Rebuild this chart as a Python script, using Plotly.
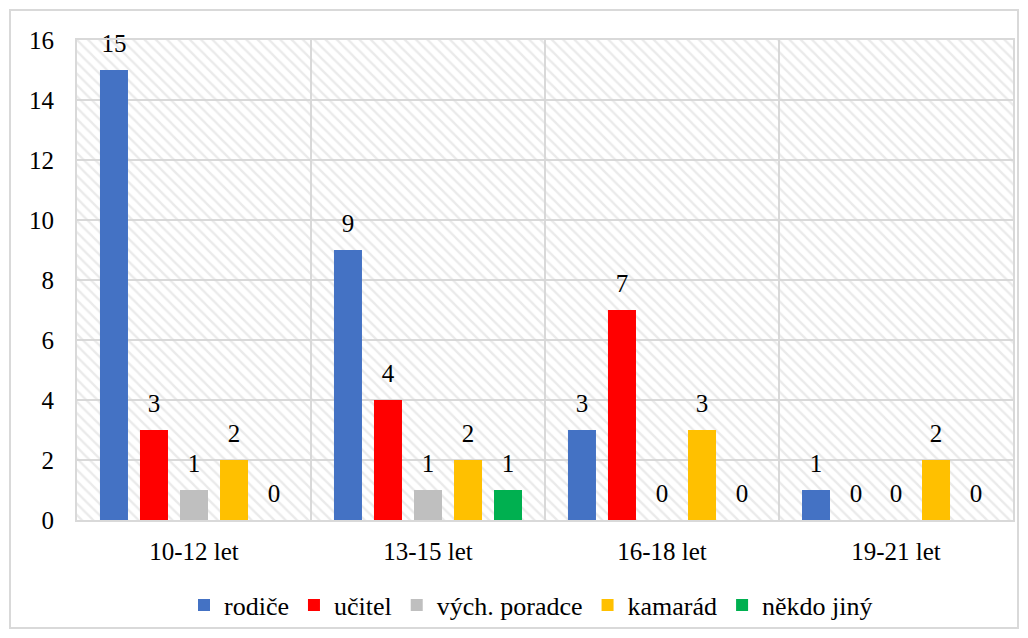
import plotly.graph_objects as go

categories = ["10-12 let", "13-15 let", "16-18 let", "19-21 let"]
series_names = ["rodiče", "učitel", "vých. poradce", "kamarád", "někdo jiný"]
rodice = [15, 9, 3, 1]
ucitel = [3, 4, 7, 0]
vych_poradce = [1, 1, 0, 0]
kamarad = [2, 2, 3, 2]
nekdo_jiny = [0, 1, 0, 0]
series_values = [rodice, ucitel, vych_poradce, kamarad, nekdo_jiny]
colors = ["#4472C4", "#FF0000", "#BFBFBF", "#FFC000", "#00B050"]
y_max = 16

FONT = "Liberation Serif"
GAP = 0.145

fig = go.Figure()

# hatched plot-area background (drawn on the base axis, below the data)
fig.add_trace(go.Bar(
    x=[0.5], y=[y_max], width=[1], base=[0],
    xaxis="x", yaxis="y",
    marker=dict(color="rgba(0,0,0,0)", line=dict(width=0),
                pattern=dict(shape="\\", fgcolor="#d6d6d6", bgcolor="rgba(0,0,0,0)",
                             size=8, solidity=0.3)),
    showlegend=False, hoverinfo="skip",
))

for name, vals, col in zip(series_names, series_values, colors):
    fig.add_trace(go.Bar(
        x=categories, y=vals, name=name, xaxis="x2", yaxis="y",
        marker=dict(color=col, line=dict(width=0)),
        hoverinfo="x+y+name",
    ))

# value labels, grouped like the bars
for name, vals in zip(series_names, series_values):
    fig.add_trace(go.Scatter(
        x=categories, y=vals, xaxis="x2", yaxis="y",
        mode="markers+text", text=[str(v) for v in vals], textposition="top center",
        textfont=dict(family=FONT, size=25, color="#000000"),
        marker=dict(size=17, color="rgba(0,0,0,0)"),
        showlegend=False, hoverinfo="skip", cliponaxis=False,
    ))

OFF = 8  # page body margin
W, H = 1028, 638
# target plot area in page pixels: x 77..1013, y 40..520
L, T = 77 - OFF, 40 - OFF
R = W - (1013 - OFF)
B = H - (520 - OFF)
pw, ph = W - L - R, H - T - B

def px(x):
    return (x - OFF - L) / pw

def py(y):
    return (H - B - (y - OFF)) / ph

fig.update_layout(
    width=W, height=H,
    margin=dict(l=L, r=R, t=T, b=B, autoexpand=False),
    paper_bgcolor="white", plot_bgcolor="white",
    barmode="group", bargap=GAP, bargroupgap=0.3,
    scattermode="group", scattergap=GAP,
    font=dict(family=FONT, size=25, color="#000000"),
    xaxis=dict(range=[0, 1], visible=False, showgrid=False, fixedrange=True),
    xaxis2=dict(overlaying="x", side="bottom", type="category",
                tickson="boundaries", showgrid=True, gridcolor="#d9d9d9", gridwidth=2,
                ticks="", showline=True, linecolor="#d9d9d9", linewidth=2, mirror=True,
                tickfont=dict(family=FONT, size=25), ticklabelstandoff=8),
    yaxis=dict(range=[0, y_max], dtick=2, showgrid=True, gridcolor="#d9d9d9", gridwidth=2,
               showline=True, linecolor="#d9d9d9", linewidth=2, mirror=True, zeroline=False,
               ticks="", tickfont=dict(family=FONT, size=25), ticklabelstandoff=16),
    legend=dict(orientation="h", x=px(531), xanchor="center", y=py(605), yanchor="middle",
                font=dict(family=FONT, size=26), itemsizing="constant",
                traceorder="normal", bgcolor="rgba(0,0,0,0)"),
    shapes=[dict(type="rect", xref="paper", yref="paper",
                 x0=px(10), x1=px(1018), y0=py(628), y1=py(10),
                 line=dict(color="#d9d9d9", width=2), fillcolor="rgba(0,0,0,0)", layer="below")],
)

fig.write_html("out.html")
